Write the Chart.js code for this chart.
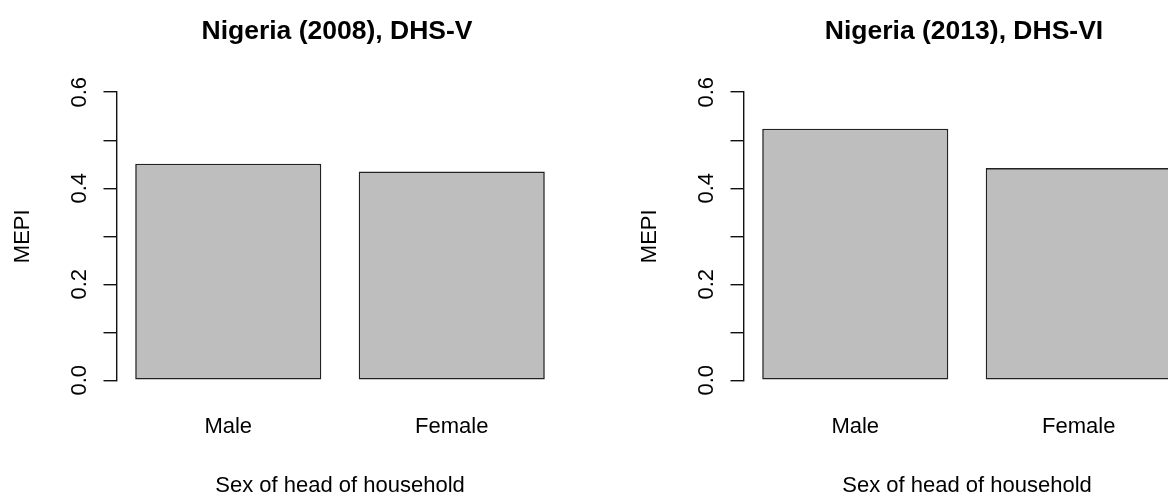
<!DOCTYPE html>
<html>
<head>
<meta charset="utf-8">
<script src="https://cdn.jsdelivr.net/npm/chart.js@4/dist/chart.umd.min.js"></script>
<style>
    body { margin: 0; overflow: hidden; background: #fff; width: 1168px; height: 500px; position: relative; }
    .panel { position: absolute; top: 0; width: 674px; height: 500px; }
</style>
</head>
<body>
<div class="panel" style="left:0px"><canvas id="chart2008" width="674" height="500"></canvas></div>
<div class="panel" style="left:627px"><canvas id="chart2013" width="674" height="500"></canvas></div>
<script>
const categories = ['Male', 'Female'];
const mepi2008 = [0.451, 0.435];
const mepi2013 = [0.524, 0.442];
const yTickValues = [0, 0.1, 0.2, 0.3, 0.4, 0.5, 0.6];
const yTickLabels = ['0.0', '', '0.2', '', '0.4', '', '0.6'];
const titles = ['Nigeria (2008), DHS-V', 'Nigeria (2013), DHS-VI'];

const FONT = '"Liberation Sans", Arial, sans-serif';

function makePanel(canvasId, title, values) {
    const ctx = document.getElementById(canvasId);
    return new Chart(ctx, {
        type: 'bar',
        data: {
            labels: categories,
            datasets: [{
                data: values,
                backgroundColor: '#bebebe',
                borderColor: '#222',
                borderWidth: 1.6,
                borderSkipped: false,
                categoryPercentage: 1,
                barPercentage: 0.8326
            }]
        },
        options: {
            responsive: false,
            animation: false,
            devicePixelRatio: 1,
            layout: { padding: 0 },
            font: { family: FONT },
            plugins: {
                legend: { display: false },
                tooltip: { enabled: false },
                title: {
                    display: true,
                    text: title,
                    color: '#000',
                    font: { family: FONT, size: 26.5, weight: 'bold' },
                    padding: { top: 16, bottom: 44.4 }
                }
            },
            scales: {
                x: {
                    type: 'category',
                    grid: { display: false, drawTicks: false },
                    border: { display: false },
                    ticks: {
                        color: '#000',
                        font: { family: FONT, size: 22 },
                        padding: 33
                    },
                    title: {
                        display: true,
                        text: 'Sex of head of household',
                        color: '#000',
                        font: { family: FONT, size: 22 },
                        padding: { top: 0, bottom: 0.5 }
                    },
                    afterFit: (scale) => { scale.height = 119.7; }
                },
                y: {
                    position: 'left',
                    min: 0,
                    max: 0.6,
                    afterBuildTicks: (scale) => {
                        scale.ticks = yTickValues.map(v => ({ value: v }));
                    },
                    grid: {
                        display: true,
                        drawOnChartArea: false,
                        drawTicks: true,
                        tickLength: 13,
                        color: '#111',
                        lineWidth: 1.4
                    },
                    border: { display: true, color: '#111', width: 1.4 },
                    ticks: {
                        color: '#000',
                        font: { family: FONT, size: 22 },
                        minRotation: 90,
                        maxRotation: 90,
                        crossAlign: 'center',
                        padding: 8.5,
                        callback: (value, index) => yTickLabels[index]
                    },
                    title: {
                        display: true,
                        text: 'MEPI',
                        color: '#000',
                        font: { family: FONT, size: 22 },
                        padding: { top: 9.3, bottom: 0 }
                    },
                    afterFit: (scale) => { scale.width = 116.5; }
                },
                // empty space on the right so the main title sits over the plot
                spacer: {
                    position: 'right',
                    display: true,
                    grid: { display: false },
                    border: { display: false },
                    ticks: { display: false },
                    afterFit: (scale) => { scale.width = 110.5; }
                }
            }
        }
    });
}

makePanel('chart2008', titles[0], mepi2008);
makePanel('chart2013', titles[1], mepi2013);
</script>
</body>
</html>
